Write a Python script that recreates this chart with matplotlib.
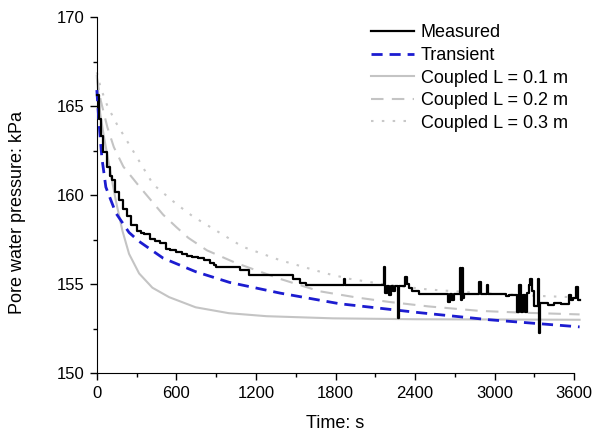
import numpy as np
import matplotlib
matplotlib.use('Agg')
import matplotlib.pyplot as plt

plt.rcParams['font.family'] = ['Liberation Sans', 'DejaVu Sans']

# measured pore water pressure
t_meas = [0, 15, 30, 50, 75, 100, 113, 140, 165, 195,
          225, 260, 300, 330, 355, 400, 440, 480, 520, 555,
          600, 640, 680, 720, 760, 805, 850, 880, 901, 1077,
          1150, 1478, 1530, 1580, 1860, 1873, 2165, 2175, 2185, 2200,
          2215, 2230, 2250, 2274, 2280, 2325, 2335, 2350, 2380, 2432,
          2650, 2660, 2675, 2690, 2740, 2748, 2755, 2762, 2770, 2885,
          2895, 2940, 2950, 3087, 3110, 3170, 3180, 3195, 3210, 3225,
          3240, 3255, 3265, 3280, 3300, 3325, 3336, 3345, 3400, 3450,
          3500, 3562, 3575, 3590, 3610, 3625, 3640]
p_meas = [165.6, 164.3, 163.3, 162.4, 161.6, 161.1, 160.85, 160.2, 159.7, 159.2,
          158.8, 158.3, 158.0, 157.9, 157.8, 157.55, 157.45, 157.3, 157.0, 156.9,
          156.8, 156.7, 156.6, 156.55, 156.45, 156.35, 156.2, 156.07, 155.95, 155.8,
          155.5, 155.3, 155.04, 154.94, 155.3, 154.94, 155.95, 154.5, 154.9, 154.4,
          154.9, 154.6, 154.9, 153.1, 154.9, 155.4, 155.0, 154.8, 154.6, 154.47,
          154.0, 154.47, 154.1, 154.47, 155.9, 154.1, 155.9, 154.2, 154.47, 155.13,
          154.47, 154.94, 154.47, 154.35, 154.4, 153.45, 154.94, 153.45, 154.4, 153.45,
          154.5, 154.94, 155.3, 154.6, 153.8, 155.3, 152.25, 153.93, 153.85, 153.93,
          153.9, 154.4, 154.1, 154.2, 154.83, 154.1, 154.1]

# transient model
t_tr = [0, 15, 38, 68, 143, 243, 319, 500, 745, 1000, 1380, 1830, 2430, 2960, 3640]
p_tr = [165.9, 164.2, 162.1, 160.45, 159.0, 157.9, 157.4, 156.46, 155.7, 155.1, 154.5,
        153.9, 153.4, 153.0, 152.6]

# coupled model, L = 0.1 m
t_c1 = [0, 25, 53, 105, 143, 193, 243, 319, 419, 545, 745, 995, 1280, 1780, 2400, 3640]
p_c1 = [166.7, 164.6, 163.3, 161.2, 159.7, 158.0, 156.7, 155.6, 154.8, 154.27, 153.7, 153.37,
        153.2, 153.08, 153.03, 153.0]

# coupled model, L = 0.2 m
t_c2 = [0, 30, 80, 128, 200, 319, 500, 600, 690, 830, 1045, 1380, 1680, 1960, 2205,
        2500, 2885, 3200, 3640]
p_c2 = [166.6, 165.3, 163.8, 162.7, 161.6, 160.5, 158.9, 158.2, 157.6, 156.9, 156.2,
        155.3, 154.6, 154.25, 154.0, 153.75, 153.5, 153.4, 153.3]

# coupled model, L = 0.3 m
t_c3 = [0, 30, 80, 150, 280, 425, 600, 725, 1100, 1380, 1730, 1905, 2200, 2500, 2900, 3300, 3640]
p_c3 = [166.9, 166.0, 165.0, 164.0, 162.4, 160.6, 159.5, 158.8, 157.1, 156.35, 155.6, 155.3,
        154.95, 154.7, 154.5, 154.35, 154.25]

fig = plt.figure(figsize=(6.09, 4.38), dpi=100)
ax = fig.add_axes([0.159, 0.148, 0.784, 0.813])

ax.plot(t_meas, p_meas, color='black', lw=1.6, drawstyle='steps-post', label='Measured',
        clip_on=False, zorder=5)
ax.plot(t_tr, p_tr, color='#1c1cd0', lw=2, ls=(0, (4, 2.5)), label='Transient', clip_on=False, zorder=4)
ax.plot(t_c1, p_c1, color='#c4c4c4', lw=1.5, label='Coupled L = 0.1 m', clip_on=False)
ax.plot(t_c2, p_c2, color='#c4c4c4', lw=1.5, ls=(0, (6, 4)), label='Coupled L = 0.2 m', clip_on=False)
ax.plot(t_c3, p_c3, color='#c8c8c8', lw=1.5, ls=(0, (1.2, 4)), label='Coupled L = 0.3 m', clip_on=False)

ax.set_xlim(0, 3600)
ax.set_ylim(150, 170)
ax.set_xticks(np.arange(0, 3601, 600))
ax.set_xticks(np.arange(0, 3601, 300), minor=True)
ax.set_yticks(np.arange(150, 171, 5))
ax.set_yticks(np.arange(150, 171, 2.5), minor=True)
ax.tick_params(which='major', direction='out', length=5, width=1, labelsize=12, pad=4)
ax.tick_params(which='minor', direction='out', length=3, width=1)
ax.spines['top'].set_visible(False)
ax.spines['right'].set_visible(False)

ax.set_xlabel('Time: s', fontsize=13)
ax.set_ylabel('Pore water pressure: kPa', fontsize=13)
ax.xaxis.set_label_coords(0.5, -0.118)
ax.yaxis.set_label_coords(-0.148, 0.452)

ax.legend(loc='upper right', bbox_to_anchor=(1.02, 1.025), frameon=False, fontsize=13,
          handlelength=2.4, handletextpad=0.35, labelspacing=0.31)

fig.savefig('out.png', dpi=100)
